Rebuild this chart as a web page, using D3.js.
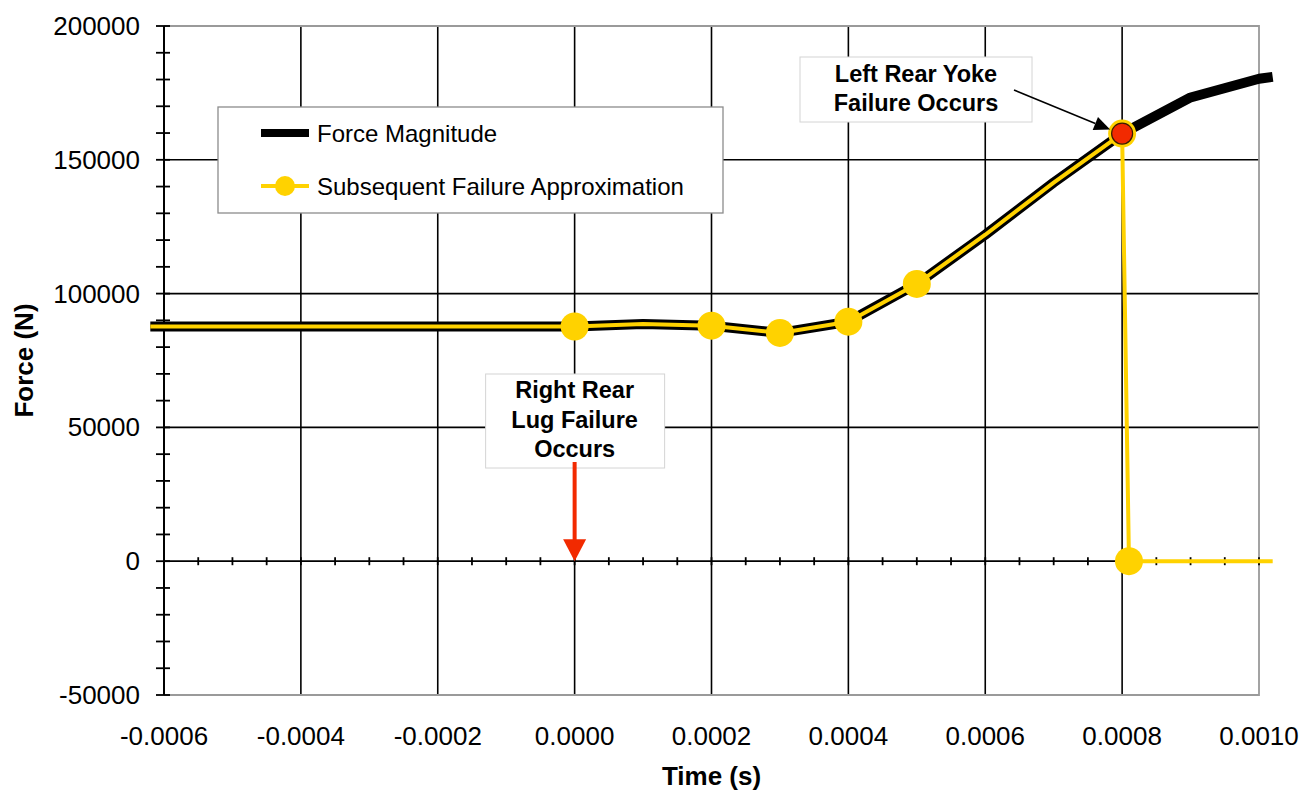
<!DOCTYPE html>
<html>
<head>
<meta charset="utf-8">
<script src="https://cdn.jsdelivr.net/npm/d3@7"></script>
<style>
  html, body { margin: 0; padding: 0; background: #fff; }
  svg { display: block; font-family: "Liberation Sans", Arial, sans-serif; }
</style>
</head>
<body>
<svg id="chart" width="1304" height="796"></svg>
<script>
// Force history around the lug and yoke failures
const forceTime = [-0.00062, -0.0006, -0.0005, -0.0004, -0.0003, -0.0002, -0.0001, 0.0000,
                   0.0001, 0.0002, 0.0003, 0.0004, 0.0005, 0.0006, 0.0007, 0.0008, 0.0009, 0.0010, 0.00102];
const forceMagnitude = [87700, 87700, 87700, 87700, 87700, 87700, 87700, 87700,
                        88600, 88000, 85300, 89500, 103600, 122000, 141500, 159800, 173300, 180300, 181000];

// Approximated force once the second failure happens
const approxTime = [-0.00062, -0.0006, -0.0005, -0.0004, -0.0003, -0.0002, -0.0001, 0.0000,
                    0.0001, 0.0002, 0.0003, 0.0004, 0.0005, 0.0006, 0.0007, 0.0008, 0.00081, 0.00102];
const approxForce = [87700, 87700, 87700, 87700, 87700, 87700, 87700, 87700,
                     88600, 88000, 85300, 89500, 103600, 122000, 141500, 159800, 0, 0];

// Marked points on the approximation
const markerTime = [0.0000, 0.0002, 0.0003, 0.0004, 0.0005, 0.00081];
const markerForce = [87700, 88000, 85300, 89500, 103600, 0];
const yokeFailureTime = [0.0008];
const yokeFailureForce = [159800];

// Axis ticks
const xTickValues = [-0.0006, -0.0004, -0.0002, 0.0000, 0.0002, 0.0004, 0.0006, 0.0008, 0.0010];
const yTickValues = [-50000, 0, 50000, 100000, 150000, 200000];

const seriesNames = ["Force Magnitude", "Subsequent Failure Approximation"];
const lugLabel = ["Right Rear", "Lug Failure", "Occurs"];
const yokeLabel = ["Left Rear Yoke", "Failure Occurs"];

const svg = d3.select("#chart");
const x = d3.scaleLinear().domain([-0.0006, 0.0010]).range([164, 1259]);
const y = d3.scaleLinear().domain([-50000, 200000]).range([695, 26]);
const [x0, x1] = x.range();
const [y0, y1] = y.range();

const yellow = "#ffd200";
const red = "#f22a00";

// Vertical grid lines
svg.append("g").selectAll("line")
  .data(xTickValues.filter(d => d !== -0.0006 && d !== 0.0010))
  .join("line")
  .attr("x1", d => x(d)).attr("x2", d => x(d))
  .attr("y1", y1).attr("y2", y0)
  .attr("stroke", "#000").attr("stroke-width", 1.6);

// Horizontal grid lines
svg.append("g").selectAll("line")
  .data(yTickValues.filter(d => d !== -50000 && d !== 200000 && d !== 0))
  .join("line")
  .attr("x1", x0).attr("x2", x1)
  .attr("y1", d => y(d)).attr("y2", d => y(d))
  .attr("stroke", "#000").attr("stroke-width", 1.6);

// Plot frame (top, right, bottom)
svg.append("path")
  .attr("d", `M${x0},${y1}H${x1}V${y0}H${x0}`)
  .attr("fill", "none").attr("stroke", "#9a9a9a").attr("stroke-width", 1.8);

// Zero line with crossing ticks
const xAxis = svg.append("g").attr("transform", `translate(0,${y(0)})`);
xAxis.append("line").attr("x1", x0).attr("x2", x1).attr("stroke", "#000").attr("stroke-width", 1.8);
xAxis.selectAll("line.tk")
  .data(d3.range(-0.0006, 0.00100001, 0.00005))
  .join("line").attr("class", "tk")
  .attr("x1", d => x(d)).attr("x2", d => x(d))
  .attr("y1", -4).attr("y2", 4)
  .attr("stroke", "#000").attr("stroke-width", 1.8);

// X tick labels (bottom)
svg.append("g").selectAll("text")
  .data(xTickValues)
  .join("text")
  .attr("x", d => x(d)).attr("y", 745)
  .attr("text-anchor", "middle")
  .attr("font-size", 26)
  .text(d => d3.format(".4f")(d).replace("−", "-"));

// Y axis
const yAxis = svg.append("g");
yAxis.append("line").attr("x1", x0).attr("x2", x0).attr("y1", y1).attr("y2", y0)
  .attr("stroke", "#000").attr("stroke-width", 2);
yAxis.selectAll("line.tk")
  .data(d3.range(-50000, 200001, 10000))
  .join("line").attr("class", "tk")
  .attr("x1", x0 - 8).attr("x2", x0 + 6)
  .attr("y1", d => y(d)).attr("y2", d => y(d))
  .attr("stroke", "#000").attr("stroke-width", 1.8);
yAxis.selectAll("text")
  .data(yTickValues)
  .join("text")
  .attr("x", 140).attr("y", d => y(d) + 9)
  .attr("text-anchor", "end")
  .attr("font-size", 26)
  .text(d => String(d));

// Axis titles
svg.append("text")
  .attr("transform", `translate(33,${(y0 + y1) / 2}) rotate(-90)`)
  .attr("text-anchor", "middle")
  .attr("font-size", 26).attr("font-weight", "bold")
  .text("Force (N)");
svg.append("text")
  .attr("x", (x0 + x1) / 2).attr("y", 785)
  .attr("text-anchor", "middle")
  .attr("font-size", 26).attr("font-weight", "bold")
  .text("Time (s)");

// Series
const line = d3.line().x(d => x(d[0])).y(d => y(d[1]));
svg.append("path")
  .datum(d3.zip(forceTime, forceMagnitude))
  .attr("d", line)
  .attr("fill", "none").attr("stroke", "#000").attr("stroke-width", 10)
  .attr("stroke-linejoin", "round");
svg.append("path")
  .datum(d3.zip(approxTime, approxForce))
  .attr("d", line)
  .attr("fill", "none").attr("stroke", yellow).attr("stroke-width", 4)
  .attr("stroke-linejoin", "round");

svg.append("g").selectAll("circle")
  .data(d3.zip(markerTime, markerForce))
  .join("circle")
  .attr("cx", d => x(d[0])).attr("cy", d => y(d[1]))
  .attr("r", 14).attr("fill", yellow);

const yoke = svg.append("g").selectAll("g")
  .data(d3.zip(yokeFailureTime, yokeFailureForce))
  .join("g")
  .attr("transform", d => `translate(${x(d[0])},${y(d[1])})`);
yoke.append("circle").attr("r", 14).attr("fill", yellow);
yoke.append("circle").attr("r", 10.5).attr("fill", red).attr("stroke", "#3a1a00").attr("stroke-width", 1.2);

// Legend
const legend = svg.append("g").attr("transform", "translate(218,107)");
legend.append("rect").attr("width", 505).attr("height", 106)
  .attr("fill", "#fff").attr("stroke", "#8c8c8c").attr("stroke-width", 1.3);
legend.append("line").attr("x1", 43).attr("x2", 91).attr("y1", 26).attr("y2", 26)
  .attr("stroke", "#000").attr("stroke-width", 8);
legend.append("line").attr("x1", 43).attr("x2", 91).attr("y1", 79).attr("y2", 79)
  .attr("stroke", yellow).attr("stroke-width", 4);
legend.append("circle").attr("cx", 67).attr("cy", 79).attr("r", 10).attr("fill", yellow);
legend.selectAll("text")
  .data(seriesNames)
  .join("text")
  .attr("x", 99).attr("y", (d, i) => 35 + i * 53)
  .attr("font-size", 24)
  .text(d => d);

// Annotation: right rear lug failure
const lugX = x(0);
svg.append("rect").attr("x", lugX - 89).attr("y", 374).attr("width", 179).attr("height", 94)
  .attr("fill", "#fff").attr("stroke", "#d4d4d4").attr("stroke-width", 1);
svg.append("g").selectAll("text")
  .data(lugLabel)
  .join("text")
  .attr("x", lugX).attr("y", (d, i) => 398 + i * 29.5)
  .attr("text-anchor", "middle")
  .attr("font-size", 23.5).attr("font-weight", "bold")
  .text(d => d);
svg.append("line").attr("x1", lugX).attr("x2", lugX).attr("y1", 462).attr("y2", y(0) - 20)
  .attr("stroke", red).attr("stroke-width", 4);
svg.append("path")
  .attr("d", `M${lugX - 11.5},${y(0) - 22}L${lugX + 11.5},${y(0) - 22}L${lugX},${y(0)}Z`)
  .attr("fill", red);

// Annotation: left rear yoke failure
svg.append("rect").attr("x", 800).attr("y", 57).attr("width", 232).attr("height", 65)
  .attr("fill", "#fff").attr("stroke", "#d4d4d4").attr("stroke-width", 1);
svg.append("g").selectAll("text")
  .data(yokeLabel)
  .join("text")
  .attr("x", 916).attr("y", (d, i) => 82 + i * 29)
  .attr("text-anchor", "middle")
  .attr("font-size", 23.5).attr("font-weight", "bold")
  .text(d => d);

const tip = [x(yokeFailureTime[0]) - 12, y(yokeFailureForce[0]) - 4];
const start = [1014, 90];
const ang = Math.atan2(tip[1] - start[1], tip[0] - start[0]);
const headLen = 16, headHalf = 7;
const base = [tip[0] - headLen * Math.cos(ang), tip[1] - headLen * Math.sin(ang)];
svg.append("line").attr("x1", start[0]).attr("y1", start[1]).attr("x2", base[0]).attr("y2", base[1])
  .attr("stroke", "#000").attr("stroke-width", 1.5);
svg.append("path")
  .attr("d", `M${tip[0]},${tip[1]}L${base[0] - headHalf * Math.sin(ang)},${base[1] + headHalf * Math.cos(ang)}L${base[0] + headHalf * Math.sin(ang)},${base[1] - headHalf * Math.cos(ang)}Z`)
  .attr("fill", "#000");
</script>
</body>
</html>
